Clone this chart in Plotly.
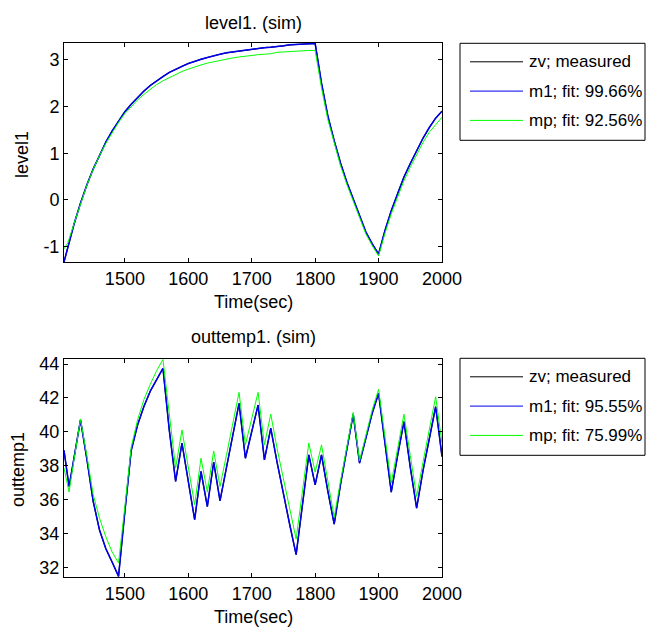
import plotly.graph_objects as go

# ---------------- data ----------------
t_level = [1404, 1410, 1420, 1430, 1440, 1450, 1460, 1470, 1480, 1490,
           1500, 1510, 1520, 1530, 1540, 1550, 1560, 1570, 1580, 1590,
           1600, 1610, 1620, 1630, 1640, 1650, 1660, 1670, 1680, 1690,
           1700, 1710, 1720, 1730, 1740, 1750, 1760, 1770, 1780, 1790,
           1800, 1810, 1820, 1830, 1840, 1850, 1860, 1870, 1880, 1890,
           1900, 1910, 1920, 1930, 1940, 1950, 1960, 1970, 1980, 1990, 2000]

level_zv = [-1.33, -1.00, -0.51, -0.07, 0.32, 0.66, 0.97, 1.24, 1.48, 1.70,
            1.89, 2.05, 2.20, 2.33, 2.45, 2.55, 2.64, 2.73, 2.80, 2.86,
            2.92, 2.97, 3.01, 3.05, 3.09, 3.12, 3.15, 3.17, 3.19, 3.21,
            3.23, 3.24, 3.26, 3.27, 3.28, 3.30, 3.32, 3.33, 3.34, 3.35,
            3.35, 2.50, 1.80, 1.27, 0.79, 0.38, 0.02, -0.34, -0.69, -0.94,
            -1.16, -0.66, -0.23, 0.13, 0.49, 0.78, 1.05, 1.32, 1.55, 1.75, 1.90]

level_m1 = [-1.33, -1.00, -0.51, -0.07, 0.32, 0.66, 0.97, 1.24, 1.48, 1.70,
            1.89, 2.05, 2.20, 2.33, 2.45, 2.55, 2.64, 2.73, 2.80, 2.86,
            2.92, 2.97, 3.01, 3.05, 3.09, 3.12, 3.15, 3.17, 3.19, 3.21,
            3.23, 3.24, 3.26, 3.27, 3.28, 3.30, 3.32, 3.33, 3.34, 3.35,
            3.35, 2.50, 1.80, 1.27, 0.79, 0.38, 0.02, -0.34, -0.69, -0.94,
            -1.16, -0.66, -0.23, 0.13, 0.49, 0.78, 1.05, 1.32, 1.55, 1.75, 1.90]

level_mp = [-1.05, -0.92, -0.50, -0.07, 0.31, 0.65, 0.95, 1.21, 1.45, 1.66,
            1.85, 2.00, 2.14, 2.26, 2.37, 2.47, 2.55, 2.62, 2.69, 2.75,
            2.80, 2.85, 2.89, 2.93, 2.96, 2.99, 3.02, 3.04, 3.06, 3.08,
            3.10, 3.11, 3.12, 3.13, 3.16, 3.17, 3.18, 3.18, 3.19, 3.20,
            3.20, 2.40, 1.72, 1.20, 0.73, 0.33, -0.03, -0.38, -0.73, -0.98,
            -1.20, -0.72, -0.30, 0.06, 0.41, 0.70, 0.97, 1.23, 1.45, 1.62, 1.77]

t_temp = [1404, 1412, 1420, 1430, 1440, 1450, 1460, 1470, 1480, 1490,
          1500, 1510, 1520, 1530, 1540, 1550, 1560, 1570, 1580, 1590,
          1600, 1610, 1620, 1630, 1640, 1650, 1660, 1670, 1680, 1690,
          1700, 1710, 1720, 1730, 1740, 1750, 1760, 1770, 1780, 1790,
          1800, 1810, 1820, 1830, 1840, 1850, 1860, 1870, 1880, 1890,
          1900, 1910, 1920, 1930, 1940, 1950, 1960, 1970, 1980, 1990, 2000]

temp_zv = [38.90, 36.77, 38.50, 40.70, 38.40, 35.90, 34.20, 33.10, 32.30, 31.47,
           35.30, 38.90, 40.40, 41.50, 42.40, 43.10, 43.75, 40.10, 37.07, 39.33,
           37.10, 34.81, 37.66, 35.59, 38.21, 35.93, 37.85, 39.77, 41.68, 38.44,
           40.10, 41.58, 38.34, 40.21, 38.20, 36.30, 34.50, 32.75, 35.80, 38.64,
           36.87, 38.64, 36.50, 34.55, 36.90, 39.10, 41.04, 38.15, 39.70, 41.10,
           42.27, 39.20, 36.44, 38.60, 40.60, 37.90, 35.50, 37.70, 39.70, 41.48, 38.54]

temp_m1 = [38.90, 36.77, 38.50, 40.70, 38.40, 35.90, 34.20, 33.10, 32.30, 31.47,
           35.30, 38.90, 40.40, 41.50, 42.40, 43.10, 43.75, 40.10, 37.07, 39.33,
           37.10, 34.81, 37.66, 35.59, 38.21, 35.93, 37.85, 39.77, 41.68, 38.44,
           40.10, 41.58, 38.34, 40.21, 38.20, 36.30, 34.50, 32.75, 35.80, 38.64,
           36.87, 38.64, 36.50, 34.55, 36.90, 39.10, 41.04, 38.15, 39.70, 41.10,
           42.27, 39.20, 36.44, 38.60, 40.60, 37.90, 35.50, 37.70, 39.70, 41.48, 38.54]

temp_mp = [37.86, 36.45, 38.40, 40.75, 38.60, 36.30, 34.90, 33.80, 32.90, 32.26,
           35.60, 39.10, 40.70, 41.90, 42.80, 43.60, 44.28, 40.90, 37.86, 40.11,
           37.90, 35.69, 38.44, 36.44, 38.87, 36.77, 38.60, 40.50, 42.33, 39.23,
           40.80, 42.33, 39.23, 41.04, 39.00, 37.20, 35.40, 33.67, 36.50, 39.33,
           37.62, 39.23, 37.10, 34.95, 37.10, 39.20, 41.15, 38.29, 39.80, 41.30,
           42.51, 39.70, 36.97, 39.00, 41.04, 38.60, 36.18, 38.20, 40.20, 42.07, 39.33]

x_ticks = [1500, 1600, 1700, 1800, 1900, 2000]
x_ticktext = ["1500", "1600", "1700", "1800", "1900", "2000"]
level_ticks = [-1, 0, 1, 2, 3]
level_ticktext = ["-1", "0", "1", "2", "3"]
temp_ticks = [32, 34, 36, 38, 40, 42, 44]
temp_ticktext = ["32", "34", "36", "38", "40", "42", "44"]

legend_level = ["zv; measured", "m1; fit: 99.66%", "mp; fit: 92.56%"]
legend_temp = ["zv; measured", "m1; fit: 95.55%", "mp; fit: 75.99%"]

# ---------------- styling ----------------
PAGE_W, PAGE_H = 654, 635
OFF = 8                         # default page margin around the plot div
W = PAGE_W - OFF                # figure spans page x 8..654
H = PAGE_H - 2 * OFF            # keep page from scrolling vertically
L, R, T, B = 64, 442, 43, 577   # plot area in page pixels
FONT = "Liberation Sans, Arial, sans-serif"
FS = 18
LEG_FS = 17
colors = ["#000000", "#0000ee", "#00ff00"]
widths = [1.2, 1.5, 1.0]


def px(x):
    return (x - L) / (R - L)


def py(y):
    return (B - y) / (B - T)


fig = go.Figure()

for ys, c, w in zip([level_zv, level_m1, level_mp], colors, widths):
    fig.add_trace(go.Scatter(x=t_level, y=ys, mode="lines",
                             line=dict(color=c, width=w),
                             xaxis="x", yaxis="y", showlegend=False,
                             hoverinfo="skip"))
for ys, c, w in zip([temp_zv, temp_m1, temp_mp], colors, widths):
    fig.add_trace(go.Scatter(x=t_temp, y=ys, mode="lines",
                             line=dict(color=c, width=w),
                             xaxis="x2", yaxis="y2", showlegend=False,
                             hoverinfo="skip"))

axis_common = dict(showline=True, linecolor="black", linewidth=1,
                   mirror="ticks", ticks="inside", ticklen=4,
                   tickcolor="black", showgrid=False, zeroline=False,
                   tickfont=dict(family=FONT, size=FS, color="black"))

fig.update_layout(
    width=W, height=H,
    margin=dict(l=L - OFF, r=PAGE_W - R, t=T - OFF, b=(OFF + H) - B, pad=0),
    paper_bgcolor="white", plot_bgcolor="white",
    font=dict(family=FONT, size=FS, color="black"),
    xaxis=dict(domain=[0, 1], anchor="y", range=[1404, 2000],
               tickvals=x_ticks, ticktext=x_ticktext, **axis_common),
    yaxis=dict(domain=[py(262), 1], anchor="x", range=[-1.33, 3.36],
               tickvals=level_ticks, ticktext=level_ticktext, **axis_common),
    xaxis2=dict(domain=[0, 1], anchor="y2", range=[1404, 2000],
                tickvals=x_ticks, ticktext=x_ticktext, **axis_common),
    yaxis2=dict(domain=[0, py(359.3)], anchor="x2", range=[31.43, 44.28],
                tickvals=temp_ticks, ticktext=temp_ticktext, **axis_common),
)

ann = []
def text(x, y, s, angle=0, xanchor="center", size=FS):
    ann.append(dict(x=px(x), y=py(y), xref="paper", yref="paper", text=s,
                    showarrow=False, textangle=angle, xanchor=xanchor,
                    yanchor="middle",
                    font=dict(family=FONT, size=size, color="black")))

text(253, 23, "level1. (sim)")
text(253, 302, "Time(sec)")
text(22, 155, "level1", angle=-90)
text(253, 337, "outtemp1. (sim)")
text(253, 617, "Time(sec)")
text(18, 470, "outtemp1", angle=-90)

shapes = []
for top, labels in [(43.3, legend_level), (358.3, legend_temp)]:
    shapes.append(dict(type="rect", xref="paper", yref="paper",
                       x0=px(460), x1=px(645), y0=py(top + 97), y1=py(top),
                       line=dict(color="black", width=1), fillcolor="white",
                       layer="above"))
    for i, (lab, c) in enumerate(zip(labels, colors)):
        yy = top + 18.5 + 29.3 * i
        shapes.append(dict(type="line", xref="paper", yref="paper",
                           x0=px(470), x1=px(523), y0=py(yy), y1=py(yy),
                           line=dict(color=c, width=1), layer="above"))
        text(527, yy, lab, xanchor="left", size=LEG_FS)

fig.update_layout(annotations=ann, shapes=shapes)

fig.write_html("out.html")
